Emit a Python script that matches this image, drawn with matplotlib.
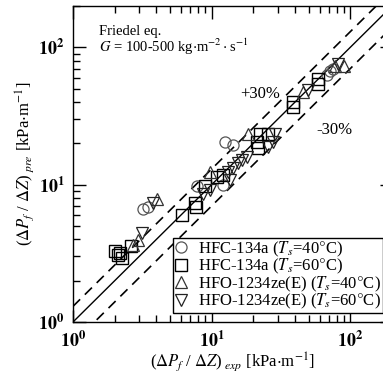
import numpy as np
import matplotlib
matplotlib.use('Agg')
import matplotlib.pyplot as plt
from matplotlib.ticker import FuncFormatter, LogLocator

plt.rcParams['font.family'] = ['Liberation Serif', 'DejaVu Serif']
plt.rcParams['mathtext.fontset'] = 'stix'

# HFC-134a Ts=40C (circles)
c40_x = [3.2, 3.5, 7.9, 12.1, 12.5, 14.3, 68, 72, 75]
c40_y = [6.6, 6.9, 9.7, 10.0, 20.3, 19.6, 63, 67, 69]
# HFC-134a Ts=60C (squares)
c60_x = [2.0, 2.2, 2.25, 2.1, 2.6, 6.1, 7.6, 7.7, 9.0, 11.0, 12.1, 21.3, 21.5, 22.4, 25.6, 38.8, 38.8, 58.7, 58.7]
c60_y = [3.3, 3.2, 2.9, 3.1, 3.6, 6.0, 7.4, 6.9, 9.7, 11.3, 11.8, 20.6, 18.6, 23.2, 23.2, 40.3, 36.5, 58.4, 53.7]
# HFO-1234ze(E) Ts=40C (up triangles)
h40_x = [2.7, 2.95, 4.05, 9.75, 18.3, 45.8, 78, 90]
h40_y = [3.65, 3.97, 7.8, 12.4, 23.2, 47, 72.6, 73]
# HFO-1234ze(E) Ts=60C (down triangles)
h60_x = [3.15, 3.8, 8.6, 9.75, 13.1, 13.6, 14.3, 15.5, 16.6, 18, 25.6, 27.8, 28.7, 49.6, 82]
h60_y = [4.46, 7.3, 8.5, 9.2, 12.4, 10.9, 13.3, 14.5, 15.2, 16, 18.9, 20.3, 23.2, 49, 75]

labels = [r'HFC-134a ($T_s$=40$\degree$C)', r'HFC-134a ($T_s$=60$\degree$C)',
          r'HFO-1234ze(E) ($T_s$=40$\degree$C)', r'HFO-1234ze(E) ($T_s$=60$\degree$C)']

fig = plt.figure(figsize=(3.83, 3.74), dpi=100)
ax = fig.add_axes([73/383, 52/374, 319/383, 316/374])

lim = np.array([1.0, 200.0])
ax.plot(lim, lim, 'k-', lw=1.0)
ax.plot(lim, 1.3*lim, 'k--', lw=1.2, dashes=(6, 4))
ax.plot(lim, 0.7*lim, 'k--', lw=1.2, dashes=(6, 4))

ms = 8
ax.plot(c40_x, c40_y, 'o', mfc='none', mec='#555555', mew=0.9, ms=ms, label=labels[0])
ax.plot(c60_x, c60_y, 's', mfc='none', mec='k', mew=1.0, ms=ms, label=labels[1])
ax.plot(h40_x, h40_y, '^', mfc='none', mec='#333333', mew=0.9, ms=ms, label=labels[2])
ax.plot(h60_x, h60_y, 'v', mfc='none', mec='#222222', mew=0.9, ms=ms, label=labels[3])

ax.set_xscale('log')
ax.set_yscale('log')
ax.set_xlim(lim)
ax.set_ylim(lim)

fmt = FuncFormatter(lambda v, p: r'$\mathbf{10^{%d}}$' % int(round(np.log10(v))))
ax.xaxis.set_major_formatter(fmt)
ax.yaxis.set_major_formatter(fmt)
ax.xaxis.set_major_locator(LogLocator(base=10, numticks=10))
ax.yaxis.set_major_locator(LogLocator(base=10, numticks=10))
ax.tick_params(which='both', direction='in', top=True, right=True, labelsize=13)
ax.tick_params(which='major', length=9, width=1.0, pad=6)
ax.tick_params(which='minor', length=5, width=1.0)
for s in ax.spines.values():
    s.set_linewidth(1.0)

ax.set_xlabel(r'($\Delta P_f$ / $\Delta Z$)$_{\ exp}$ [kPa$\cdot$m$^{-1}$]', fontsize=12, labelpad=0)
ax.set_ylabel(r'($\Delta P_f$ / $\Delta Z$)$_{\ pre}$ [kPa$\cdot$m$^{-1}$]', fontsize=12, labelpad=2)

ax.text(1.55, 122, 'Friedel eq.', fontsize=10.5)
ax.text(1.55, 92, r'$G$ = 100-500 kg$\cdot$m$^{-2}\cdot$s$^{-1}$', fontsize=10.5)
ax.text(16, 43, '+30%', fontsize=12)
ax.text(57, 23.5, '-30%', fontsize=12)

leg = fig.legend(handles=ax.get_lines()[3:], loc='lower left',
                 bbox_to_anchor=(173/383, 1 - 313/374), fontsize=12,
                 frameon=True, fancybox=False, edgecolor='k', framealpha=1,
                 handlelength=0.8, handletextpad=0.6, borderpad=0.1,
                 labelspacing=-0.1, borderaxespad=0.0)
leg.get_frame().set_linewidth(1.0)

fig.savefig('out.png', dpi=100)
